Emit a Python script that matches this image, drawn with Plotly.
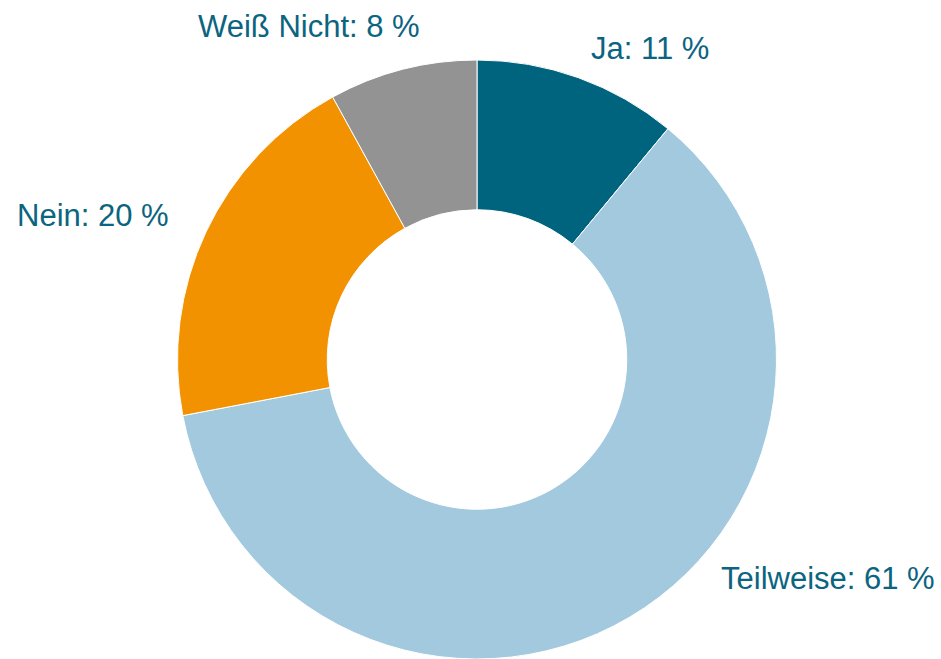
import plotly.graph_objects as go

categories = ["Ja", "Teilweise", "Nein", "Weiß Nicht"]
values = [11, 61, 20, 8]
colors = ["#00647f", "#a3c9df", "#f39200", "#939393"]
label_texts = ["Ja: 11 %", "Teilweise: 61 %", "Nein: 20 %", "Weiß Nicht: 8 %"]

W, H = 941, 659
fig = go.Figure(go.Pie(
    labels=categories,
    values=values,
    hole=0.5,
    sort=False,
    direction="clockwise",
    rotation=0,
    marker=dict(colors=colors, line=dict(color="white", width=1)),
    textinfo="none",
    hoverinfo="label+percent",
    showlegend=False,
    domain=dict(x=[(477 - 300) / W, (477 + 300) / W], y=[0, 1 - 60 / H]),
))

# label anchor positions (pixels: left edge, vertical centre)
label_pos = [(589, 48), (719, 578), (15, 215), (196, 27)]
for txt, (px, py) in zip(label_texts, label_pos):
    fig.add_annotation(
        x=px / W, y=1 - py / H, xref="paper", yref="paper",
        text=txt, showarrow=False, xanchor="left", yanchor="middle",
        font=dict(family="Liberation Sans, Arial, sans-serif", size=31, color="#0b6480"),
    )

fig.update_layout(
    width=W, height=H,
    margin=dict(l=0, r=0, t=0, b=0),
    paper_bgcolor="white", plot_bgcolor="white",
)
fig.write_html("out.html", config={"displayModeBar": False},
               post_script="document.body.style.margin='0';document.body.style.overflow='hidden';")
